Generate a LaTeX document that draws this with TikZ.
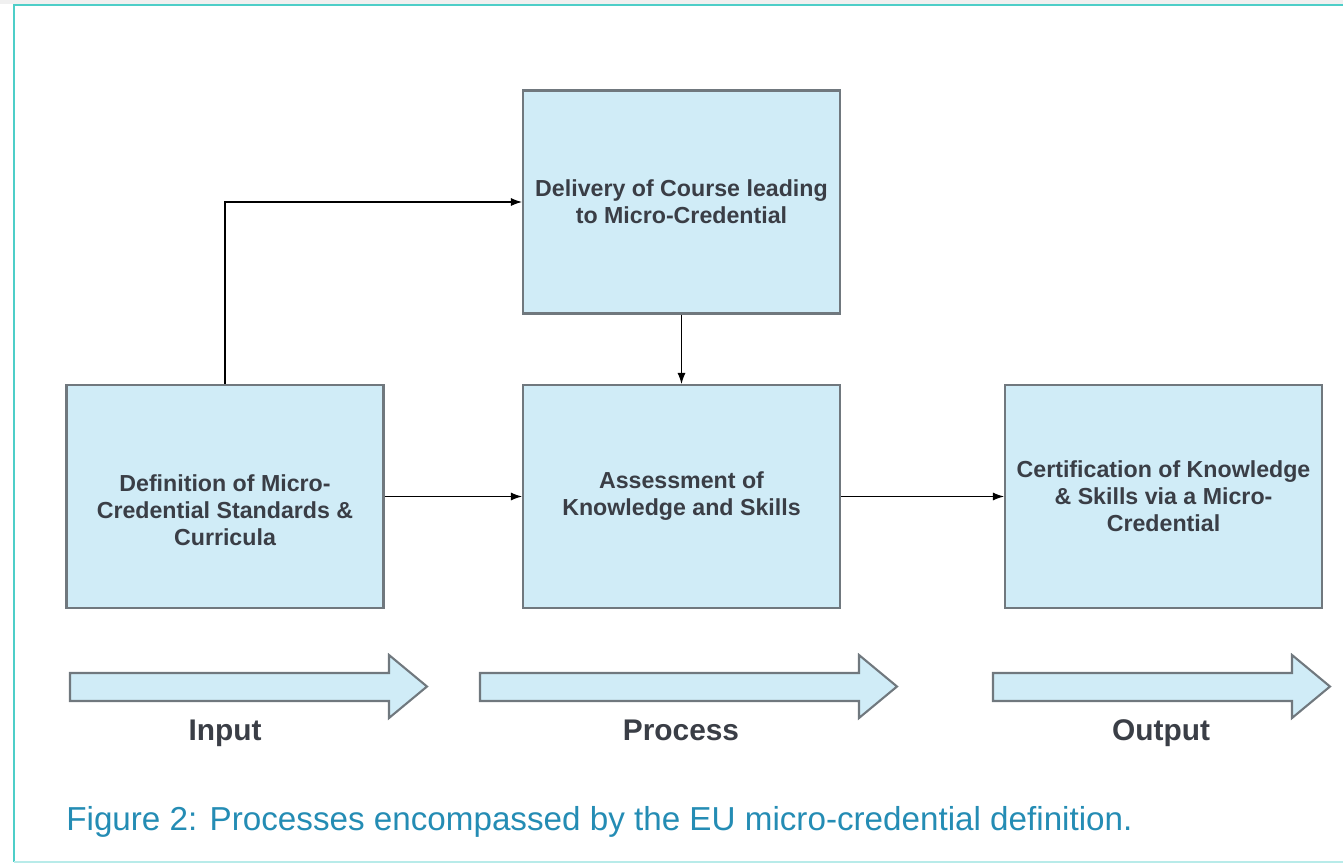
\documentclass[tikz,border=0pt]{standalone}
\usepackage{fontspec}
\setmainfont{Liberation Sans}
\usetikzlibrary{arrows.meta}

\definecolor{boxblue}{RGB}{208,236,247}
\definecolor{boxline}{RGB}{112,120,126}
\definecolor{frameteal}{RGB}{78,206,200}
\definecolor{captionblue}{RGB}{36,140,180}
\definecolor{textgray}{RGB}{58,62,70}

\begin{document}
\begin{tikzpicture}[x=0.02cm, y=-0.02cm,
        stagebox/.style={draw=boxline, line width=1.2pt, fill=boxblue, minimum width=6.34cm, minimum height=4.46cm},
        boxtext/.style={align=center, font=\fontsize{13.2}{15.4}\selectfont\bfseries, text=textgray},
        flow/.style={-{Latex[length=2.2mm,width=1.6mm]}, line width=0.6pt},
        phase/.style={anchor=base, font=\fontsize{17}{20}\selectfont\bfseries, text=textgray}]
        \useasboundingbox (0,0) rectangle (1343,863);

        % page frame
        \fill[gray!12] (0,0) rectangle (1343,4);
        \draw[frameteal, line width=1.4pt] (1343,5) -- (14,5) -- (14,862);
        \draw[frameteal!40, line width=1.4pt] (14,862) -- (1343,862);

        % stages
        \node[stagebox, boxtext] (del) at (681.5,202) {Delivery of Course leading\\to Micro-Credential};
        \node[stagebox] (def) at (225,496.5) {};
        \node[boxtext] (deftext) at (225,510) {Definition of Micro-\\Credential Standards \&\\Curricula};
        \node[stagebox, boxtext] (ass) at (681.5,496.5) {Assessment of\\Knowledge and Skills};
        \node[stagebox, boxtext] (cert) at (1163.5,496.5) {Certification of Knowledge\\\& Skills via a Micro-\\Credential};

        % connectors
        \draw[flow] (def.north) |- (del.west);
        \draw[flow] (del.south) -- (ass.north);
        \draw[flow] (def.east) -- (ass.west);
        \draw[flow] (ass.east) -- (cert.west);

        % block arrows
        \foreach \a/\b in {70/427, 480/897, 993/1330} {
            \draw[boxline, line width=1.2pt, fill=boxblue] (\a,673) -- (\b-38,673) -- (\b-38,655) -- (\b,686.5)
                -- (\b-38,718) -- (\b-38,701) -- (\a,701) -- cycle;
        }

        % phase labels
        \node[phase] (input) at (225,740) {Input};
        \node[phase] (process) at (681,740) {Process};
        \node[phase] (output) at (1161,740) {Output};

        % caption
        \node[anchor=west, inner sep=0pt, font=\fontsize{18.9}{22}\selectfont, text=captionblue] (caption) at (66,822)
            {Figure 2: Processes encompassed by the EU micro-credential definition.};
\end{tikzpicture}
\end{document}
